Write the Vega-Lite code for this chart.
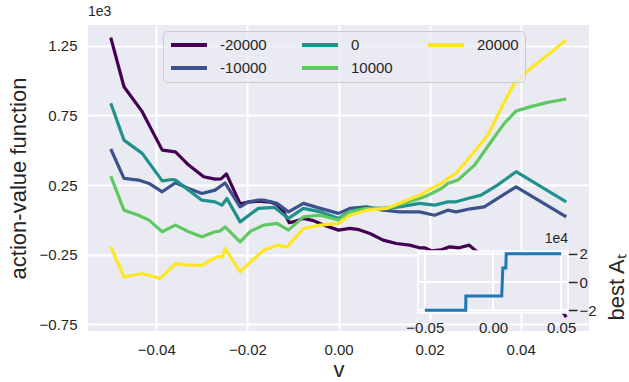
{
  "$schema": "https://vega.github.io/schema/vega-lite/v6.json",
  "width": 501,
  "height": 306,
  "autosize": {"type": "none"},
  "padding": {"left": 88, "top": 25, "right": 40, "bottom": 51},
  "config": {
    "font": "Liberation Sans",
    "view": {"fill": "#EAEAF2", "stroke": null},
    "axis": {
      "labelFont": "Liberation Sans",
      "titleFont": "Liberation Sans",
      "labelColor": "#262626",
      "titleColor": "#262626",
      "titleFontWeight": "normal",
      "labelFontSize": 15,
      "titleFontSize": 22,
      "domain": false,
      "ticks": false,
      "gridColor": "#ffffff",
      "gridWidth": 2,
      "gridOpacity": 1
    },
    "text": {"font": "Liberation Sans", "color": "#262626"}
  },
  "datasets": {
    "curves": [
      {"A": "-20000", "v": -0.05, "q": 1308}, {"A": "-20000", "v": -0.0471, "q": 956}, {"A": "-20000", "v": -0.0431, "q": 777},
      {"A": "-20000", "v": -0.0387, "q": 501}, {"A": "-20000", "v": -0.0358, "q": 489}, {"A": "-20000", "v": -0.0329, "q": 394},
      {"A": "-20000", "v": -0.0296, "q": 310}, {"A": "-20000", "v": -0.0271, "q": 293}, {"A": "-20000", "v": -0.0258, "q": 295},
      {"A": "-20000", "v": -0.0246, "q": 330}, {"A": "-20000", "v": -0.0216, "q": 115}, {"A": "-20000", "v": -0.0198, "q": 128},
      {"A": "-20000", "v": -0.0176, "q": 135}, {"A": "-20000", "v": -0.015, "q": 128}, {"A": "-20000", "v": -0.0135, "q": 110},
      {"A": "-20000", "v": -0.0121, "q": 60}, {"A": "-20000", "v": -0.0108, "q": -20}, {"A": "-20000", "v": -0.0095, "q": -10},
      {"A": "-20000", "v": -0.0077, "q": 10}, {"A": "-20000", "v": -0.0055, "q": -5}, {"A": "-20000", "v": -0.003, "q": -40},
      {"A": "-20000", "v": 0, "q": -73}, {"A": "-20000", "v": 0.0025, "q": -61}, {"A": "-20000", "v": 0.0045, "q": -70},
      {"A": "-20000", "v": 0.0069, "q": -97}, {"A": "-20000", "v": 0.0098, "q": -145}, {"A": "-20000", "v": 0.0127, "q": -169},
      {"A": "-20000", "v": 0.0156, "q": -181}, {"A": "-20000", "v": 0.0178, "q": -200}, {"A": "-20000", "v": 0.0189, "q": -200},
      {"A": "-20000", "v": 0.0205, "q": -222}, {"A": "-20000", "v": 0.0225, "q": -215}, {"A": "-20000", "v": 0.0244, "q": -193},
      {"A": "-20000", "v": 0.0265, "q": -200}, {"A": "-20000", "v": 0.0287, "q": -181}, {"A": "-20000", "v": 0.0302, "q": -222},
      {"A": "-20000", "v": 0.033, "q": -270}, {"A": "-20000", "v": 0.037, "q": -350}, {"A": "-20000", "v": 0.041, "q": -430},
      {"A": "-20000", "v": 0.045, "q": -520}, {"A": "-20000", "v": 0.0475, "q": -590}, {"A": "-20000", "v": 0.049, "q": -648},
      {"A": "-20000", "v": 0.05, "q": -697},

      {"A": "-10000", "v": -0.05, "q": 509}, {"A": "-10000", "v": -0.0471, "q": 298}, {"A": "-10000", "v": -0.0439, "q": 286},
      {"A": "-10000", "v": -0.0416, "q": 262}, {"A": "-10000", "v": -0.0387, "q": 202}, {"A": "-10000", "v": -0.0358, "q": 267},
      {"A": "-10000", "v": -0.0329, "q": 226}, {"A": "-10000", "v": -0.03, "q": 190}, {"A": "-10000", "v": -0.0271, "q": 214},
      {"A": "-10000", "v": -0.026, "q": 240}, {"A": "-10000", "v": -0.0249, "q": 265}, {"A": "-10000", "v": -0.0216, "q": 94},
      {"A": "-10000", "v": -0.0198, "q": 130}, {"A": "-10000", "v": -0.0176, "q": 142}, {"A": "-10000", "v": -0.0164, "q": 142},
      {"A": "-10000", "v": -0.0135, "q": 119}, {"A": "-10000", "v": -0.011, "q": 58}, {"A": "-10000", "v": -0.0077, "q": 119},
      {"A": "-10000", "v": -0.004, "q": 83}, {"A": "-10000", "v": 0, "q": 47}, {"A": "-10000", "v": 0.0025, "q": 83},
      {"A": "-10000", "v": 0.0062, "q": 94}, {"A": "-10000", "v": 0.0098, "q": 70}, {"A": "-10000", "v": 0.0134, "q": 58},
      {"A": "-10000", "v": 0.0178, "q": 58}, {"A": "-10000", "v": 0.0211, "q": 34}, {"A": "-10000", "v": 0.024, "q": 70},
      {"A": "-10000", "v": 0.0258, "q": 58}, {"A": "-10000", "v": 0.029, "q": 80}, {"A": "-10000", "v": 0.032, "q": 94},
      {"A": "-10000", "v": 0.039, "q": 238}, {"A": "-10000", "v": 0.05, "q": 22},

      {"A": "0", "v": -0.05, "q": 837}, {"A": "0", "v": -0.0471, "q": 573}, {"A": "0", "v": -0.0431, "q": 478},
      {"A": "0", "v": -0.0387, "q": 280}, {"A": "0", "v": -0.0365, "q": 290}, {"A": "0", "v": -0.0358, "q": 286},
      {"A": "0", "v": -0.0329, "q": 214}, {"A": "0", "v": -0.03, "q": 142}, {"A": "0", "v": -0.0271, "q": 130},
      {"A": "0", "v": -0.0256, "q": 106}, {"A": "0", "v": -0.0245, "q": 154}, {"A": "0", "v": -0.0216, "q": -14},
      {"A": "0", "v": -0.0176, "q": 83}, {"A": "0", "v": -0.014, "q": 90}, {"A": "0", "v": -0.011, "q": 11},
      {"A": "0", "v": -0.0077, "q": 83}, {"A": "0", "v": -0.004, "q": 58}, {"A": "0", "v": 0, "q": 11},
      {"A": "0", "v": 0.0025, "q": 63}, {"A": "0", "v": 0.0062, "q": 83}, {"A": "0", "v": 0.0098, "q": 83},
      {"A": "0", "v": 0.0134, "q": 94}, {"A": "0", "v": 0.0178, "q": 119}, {"A": "0", "v": 0.0211, "q": 106},
      {"A": "0", "v": 0.024, "q": 130}, {"A": "0", "v": 0.0258, "q": 130}, {"A": "0", "v": 0.0284, "q": 154},
      {"A": "0", "v": 0.0313, "q": 178}, {"A": "0", "v": 0.0349, "q": 250}, {"A": "0", "v": 0.039, "q": 346},
      {"A": "0", "v": 0.05, "q": 130},

      {"A": "10000", "v": -0.05, "q": 315}, {"A": "10000", "v": -0.0471, "q": 70}, {"A": "10000", "v": -0.0439, "q": 34},
      {"A": "10000", "v": -0.0416, "q": -1}, {"A": "10000", "v": -0.0387, "q": -85}, {"A": "10000", "v": -0.0358, "q": -37},
      {"A": "10000", "v": -0.0329, "q": -85}, {"A": "10000", "v": -0.03, "q": -121}, {"A": "10000", "v": -0.0271, "q": -85},
      {"A": "10000", "v": -0.026, "q": -80}, {"A": "10000", "v": -0.0249, "q": -50}, {"A": "10000", "v": -0.0216, "q": -157},
      {"A": "10000", "v": -0.0193, "q": -80}, {"A": "10000", "v": -0.0164, "q": -37}, {"A": "10000", "v": -0.0135, "q": -25},
      {"A": "10000", "v": -0.011, "q": -73}, {"A": "10000", "v": -0.0077, "q": 22}, {"A": "10000", "v": -0.004, "q": 34},
      {"A": "10000", "v": 0, "q": 0}, {"A": "10000", "v": 0.0025, "q": 58}, {"A": "10000", "v": 0.0062, "q": 83},
      {"A": "10000", "v": 0.0106, "q": 83}, {"A": "10000", "v": 0.0142, "q": 119}, {"A": "10000", "v": 0.0178, "q": 154},
      {"A": "10000", "v": 0.0197, "q": 178}, {"A": "10000", "v": 0.0226, "q": 226}, {"A": "10000", "v": 0.024, "q": 262},
      {"A": "10000", "v": 0.0262, "q": 286}, {"A": "10000", "v": 0.0299, "q": 394}, {"A": "10000", "v": 0.0335, "q": 561},
      {"A": "10000", "v": 0.0364, "q": 693}, {"A": "10000", "v": 0.039, "q": 782}, {"A": "10000", "v": 0.0422, "q": 813},
      {"A": "10000", "v": 0.0459, "q": 844}, {"A": "10000", "v": 0.05, "q": 868},

      {"A": "20000", "v": -0.05, "q": -193}, {"A": "20000", "v": -0.0471, "q": -409}, {"A": "20000", "v": -0.0431, "q": -384},
      {"A": "20000", "v": -0.0391, "q": -420}, {"A": "20000", "v": -0.0358, "q": -313}, {"A": "20000", "v": -0.0329, "q": -325},
      {"A": "20000", "v": -0.03, "q": -325}, {"A": "20000", "v": -0.0267, "q": -265}, {"A": "20000", "v": -0.0255, "q": -265},
      {"A": "20000", "v": -0.0249, "q": -205}, {"A": "20000", "v": -0.0216, "q": -373}, {"A": "20000", "v": -0.0193, "q": -301},
      {"A": "20000", "v": -0.0164, "q": -217}, {"A": "20000", "v": -0.0135, "q": -181}, {"A": "20000", "v": -0.0113, "q": -193},
      {"A": "20000", "v": -0.0077, "q": -61}, {"A": "20000", "v": -0.004, "q": -37}, {"A": "20000", "v": 0, "q": -25},
      {"A": "20000", "v": 0.0025, "q": 34}, {"A": "20000", "v": 0.0062, "q": 70}, {"A": "20000", "v": 0.0106, "q": 83},
      {"A": "20000", "v": 0.0142, "q": 130}, {"A": "20000", "v": 0.0178, "q": 178}, {"A": "20000", "v": 0.0197, "q": 214},
      {"A": "20000", "v": 0.0226, "q": 262}, {"A": "20000", "v": 0.024, "q": 298}, {"A": "20000", "v": 0.0258, "q": 334},
      {"A": "20000", "v": 0.0298, "q": 489}, {"A": "20000", "v": 0.0328, "q": 609}, {"A": "20000", "v": 0.0357, "q": 801},
      {"A": "20000", "v": 0.0386, "q": 981}, {"A": "20000", "v": 0.0422, "q": 1088}, {"A": "20000", "v": 0.0459, "q": 1184},
      {"A": "20000", "v": 0.05, "q": 1292}
    ],
    "best": [
      {"v": -0.05, "best": -20000}, {"v": -0.02, "best": -20000}, {"v": -0.0199, "best": -10000},
      {"v": 0.0064, "best": -10000}, {"v": 0.0068, "best": 0}, {"v": 0.0072, "best": 10000},
      {"v": 0.0094, "best": 10000}, {"v": 0.0097, "best": 20000}, {"v": 0.05, "best": 20000}
    ]
  },
  "resolve": {"scale": {"x": "independent", "y": "independent", "color": "independent"}},
  "layer": [
    {
      "layer": [
        {
          "data": {"name": "curves"},
          "mark": {"type": "line", "strokeWidth": 3.2, "strokeJoin": "round"},
          "encoding": {
            "x": {
              "field": "v", "type": "quantitative",
              "scale": {"domain": [-0.055, 0.055], "nice": false, "zero": false},
              "axis": {
                "values": [-0.04, -0.02, 0, 0.02, 0.04],
                "labelExpr": "replace(format(datum.value, '.2f'), '-', '\u2212')",
                "labelPadding": 11,
                "title": "v",
                "titleY": 45,
                "titleBaseline": "alphabetic"
              }
            },
            "y": {
              "field": "q", "type": "quantitative",
              "scale": {"domain": [-797, 1399], "nice": false, "zero": false},
              "axis": {
                "values": [-750, -250, 250, 750, 1250],
                "labelExpr": "replace(format(datum.value / 1000, '.2f'), '-', '\u2212')",
                "labelPadding": 11,
                "title": "action-value function",
                "titleX": -63,
                "titleBaseline": "alphabetic"
              }
            },
            "color": {
              "field": "A", "type": "nominal",
              "scale": {
                "domain": ["-20000", "-10000", "0", "10000", "20000"],
                "range": ["#440154", "#3b528b", "#21918c", "#5ec962", "#fde725"]
              },
              "legend": {
                "title": null,
                "orient": "none",
                "legendX": 75,
                "legendY": 6,
                "columns": 3,
                "symbolType": "stroke",
                "symbolSize": 1296,
                "symbolStrokeWidth": 4,
                "clipHeight": 16,
                "labelFontSize": 15,
                "labelColor": "#262626",
                "labelFont": "Liberation Sans",
                "labelOffset": 11,
                "columnPadding": 33,
                "rowPadding": 7,
                "padding": 6,
                "fillColor": "rgba(234,234,242,0.8)",
                "strokeColor": "#cccccc",
                "cornerRadius": 4
              }
            }
          }
        },
        {
          "data": {"values": [{"label": "1e3"}]},
          "mark": {"type": "text", "align": "left", "baseline": "alphabetic", "dy": -9, "fontSize": 14},
          "encoding": {
            "text": {"field": "label"},
            "x": {"datum": -0.055, "type": "quantitative"},
            "y": {"datum": 1399, "type": "quantitative"}
          }
        }
      ]
    },
    {
      "layer": [
        {
          "data": {"values": [{}]},
          "mark": {"type": "rect", "fill": "#EAEAF2", "stroke": "#ffffff", "strokeWidth": 1.5},
          "encoding": {
            "x": {
              "datum": -0.055, "type": "quantitative",
              "scale": {"domain": [-0.055, 0.055], "range": [330, 480], "nice": false, "zero": false}
            },
            "x2": {"datum": 0.055},
            "y": {
              "datum": -22000, "type": "quantitative",
              "scale": {"domain": [-22000, 22000], "range": [288, 226], "nice": false, "zero": false}
            },
            "y2": {"datum": 22000}
          }
        },
        {
          "data": {"values": [{"gx": -0.05}, {"gx": 0}, {"gx": 0.05}]},
          "mark": {"type": "rule", "color": "#ffffff", "strokeWidth": 2},
          "encoding": {
            "x": {"field": "gx", "type": "quantitative"},
            "y": {"datum": -22000, "type": "quantitative"},
            "y2": {"datum": 22000}
          }
        },
        {
          "data": {"values": [{"gy": -20000}, {"gy": 0}, {"gy": 20000}]},
          "mark": {"type": "rule", "color": "#ffffff", "strokeWidth": 2},
          "encoding": {
            "y": {"field": "gy", "type": "quantitative"},
            "x": {"datum": -0.055, "type": "quantitative"},
            "x2": {"datum": 0.055}
          }
        },
        {
          "data": {"name": "best"},
          "mark": {"type": "line", "color": "#1f77b4", "strokeWidth": 3},
          "encoding": {
            "x": {
              "field": "v", "type": "quantitative",
              "axis": {
                "orient": "bottom",
                "offset": -18,
                "values": [-0.05, 0, 0.05],
                "labelExpr": "replace(format(datum.value, '.2f'), '-', '\u2212')",
                "grid": false,
                "title": null,
                "labelPadding": 7
              }
            },
            "y": {
              "field": "best", "type": "quantitative",
              "axis": {
                "orient": "right",
                "offset": -21,
                "values": [-20000, 0, 20000],
                "labelExpr": "replace(format(datum.value / 10000, 'd'), '-', '\u2212')",
                "grid": false,
                "ticks": true,
                "tickSize": 9,
                "tickWidth": 1.5,
                "tickColor": "#262626",
                "labelPadding": 2,
                "title": "best A\u209c",
                "titleAngle": 270,
                "titleX": 55,
                "titleY": 262,
                "titleBaseline": "alphabetic"
              }
            }
          }
        },
        {
          "data": {"values": [{"label": "1e4"}]},
          "mark": {"type": "text", "align": "right", "baseline": "alphabetic", "dy": -8, "fontSize": 14},
          "encoding": {
            "text": {"field": "label"},
            "x": {"datum": 0.055, "type": "quantitative"},
            "y": {"datum": 22000, "type": "quantitative"}
          }
        }
      ]
    }
  ]
}
